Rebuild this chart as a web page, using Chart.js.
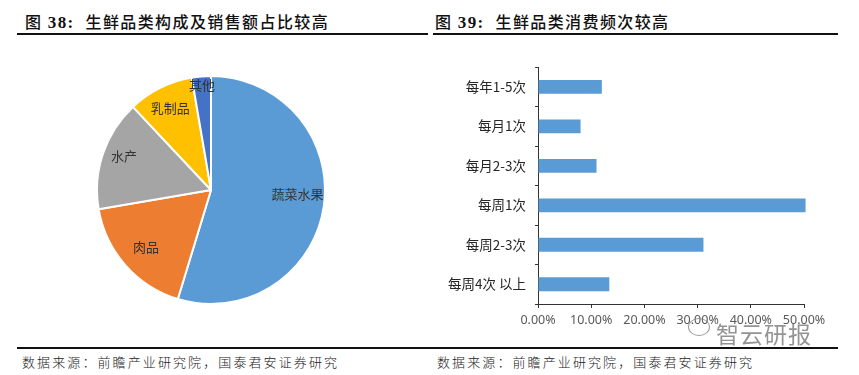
<!DOCTYPE html>
<html>
<head>
<meta charset="utf-8">
<script src="https://cdn.jsdelivr.net/npm/chart.js@4/dist/chart.umd.min.js"></script>
<style>
  body { margin: 0; background: #fff; width: 859px; height: 375px; position: relative; overflow: hidden; }
  .title { position: absolute; top: 9px; font-family: "Liberation Serif", "Noto Sans CJK SC", serif; font-weight: 500; font-size: 16px; color: #111; letter-spacing: 1.4px; white-space: nowrap; }
  .title b { font-family: "Liberation Serif", serif; font-size: 17px; }
  .rule { position: absolute; height: 1.5px; background: #111; }
  .source { position: absolute; top: 352px; font-family: "Noto Sans CJK SC", sans-serif; font-weight: 300; font-size: 13px; color: #222; letter-spacing: 2.1px; white-space: nowrap; }
  .mark { position: absolute; left: 716px; top: 316px; font-family: "Noto Sans CJK SC", sans-serif; font-size: 23px; color: rgba(120,120,120,0.8); letter-spacing: 1px; }
  .mark-icon { position: absolute; left: 688px; top: 318px; width: 20px; height: 16px; border: 1.5px solid rgba(130,130,130,0.8); border-radius: 50%; }
  canvas { position: absolute; }
</style>
</head>
<body>
<div class="title" style="left:25px">图 <b>38:</b>&nbsp; 生鲜品类构成及销售额占比较高</div>
<div class="title" style="left:435px">图 <b>39:</b>&nbsp; 生鲜品类消费频次较高</div>
<div class="rule" style="left:17px; width:411px; top:33px"></div>
<div class="rule" style="left:433px; width:405px; top:33px"></div>
<div class="rule" style="left:17px; width:821px; top:347px"></div>
<div class="source" style="left:22px">数据来源：前瞻产业研究院，国泰君安证券研究</div>
<div class="source" style="left:437px">数据来源：前瞻产业研究院，国泰君安证券研究</div>

<div style="position:absolute; left:96px; top:75px; width:230px; height:230px"><canvas id="pie"></canvas></div>
<div style="position:absolute; left:432px; top:50px; width:410px; height:290px"><canvas id="bar"></canvas></div>

<div class="mark-icon"></div>
<div class="mark">智云研报</div>

<script>
// fig 38 - share of fresh categories (%)
const pieLabels = ['蔬菜水果', '肉品', '水产', '乳制品', '其他'];
const pieValues = [54.7, 17.6, 15.7, 9.3, 2.7];
const pieColors = ['#5B9BD5', '#ED7D31', '#A5A5A5', '#FFC000', '#4472C4'];
const pieLabelDist = [0.76, 0.76, 0.82, 0.8, 0.92];
const pieLabelTurn = [-0.1, 0, 0.05, 0, 0]; // small angle nudges (rad)

// fig 39 - purchase frequency (%)
const freqLabels = ['每年1-5次', '每月1次', '每月2-3次', '每周1次', '每周2-3次', '每周4次 以上'];
const freqValues = [12.0, 8.0, 11.0, 50.3, 31.1, 13.4];
const xTicks = [0, 10, 20, 30, 40, 50];

const sliceLabels = {
  id: 'sliceLabels',
  afterDatasetsDraw(chart) {
    const ctx = chart.ctx;
    const meta = chart.getDatasetMeta(0);
    ctx.save();
    ctx.font = '13px "Noto Sans CJK SC"';
    ctx.fillStyle = '#333';
    ctx.textAlign = 'center';
    ctx.textBaseline = 'middle';
    meta.data.forEach(function(arc, i) {
      const p = arc.getProps(['x', 'y', 'startAngle', 'endAngle', 'outerRadius'], true);
      const mid = (p.startAngle + p.endAngle) / 2 + pieLabelTurn[i];
      const r = p.outerRadius * pieLabelDist[i];
      ctx.fillText(pieLabels[i], p.x + Math.cos(mid) * r, p.y + Math.sin(mid) * r);
    });
    ctx.restore();
  }
};

new Chart(document.getElementById('pie'), {
  type: 'pie',
  data: {
    labels: pieLabels,
    datasets: [{
      data: pieValues,
      backgroundColor: pieColors,
      borderColor: '#fff',
      borderWidth: 2,
    }],
  },
  options: {
    responsive: true,
    maintainAspectRatio: false,
    animation: false,
    plugins: { legend: { display: false }, tooltip: { enabled: false } },
  },
  plugins: [sliceLabels],
});

new Chart(document.getElementById('bar'), {
  type: 'bar',
  data: {
    labels: freqLabels,
    datasets: [{
      data: freqValues,
      backgroundColor: '#5B9BD5',
      barPercentage: 0.35,
      categoryPercentage: 1,
      clip: 4,
    }],
  },
  options: {
    indexAxis: 'y',
    responsive: true,
    maintainAspectRatio: false,
    animation: false,
    layout: { padding: { top: 10, right: 38, left: 0, bottom: 0 } },
    plugins: { legend: { display: false }, tooltip: { enabled: false } },
    scales: {
      x: {
        min: 0,
        max: 50,
        afterBuildTicks: function(axis) {
          axis.ticks = xTicks.map(function(v) { return { value: v }; });
        },
        afterFit: function(axis) { axis.height = 36; },
        grid: { drawOnChartArea: false, drawTicks: true, tickLength: 4, color: '#333' },
        border: { display: true, color: '#333', width: 1 },
        ticks: {
          padding: 5,
          color: '#595959',
          font: { family: 'Noto Sans', size: 12.5 },
          callback: function(v) { return v.toFixed(2) + '%'; },
        },
      },
      y: {
        afterFit: function(axis) { axis.width = 106; },
        grid: { drawOnChartArea: false, drawTicks: true, tickLength: 3, color: '#333' },
        border: { display: true, color: '#333', width: 1 },
        ticks: {
          padding: 9,
          color: '#262626',
          font: { family: 'Noto Sans CJK SC', size: 13.5 },
        },
      },
    },
  },
});
</script>
</body>
</html>
